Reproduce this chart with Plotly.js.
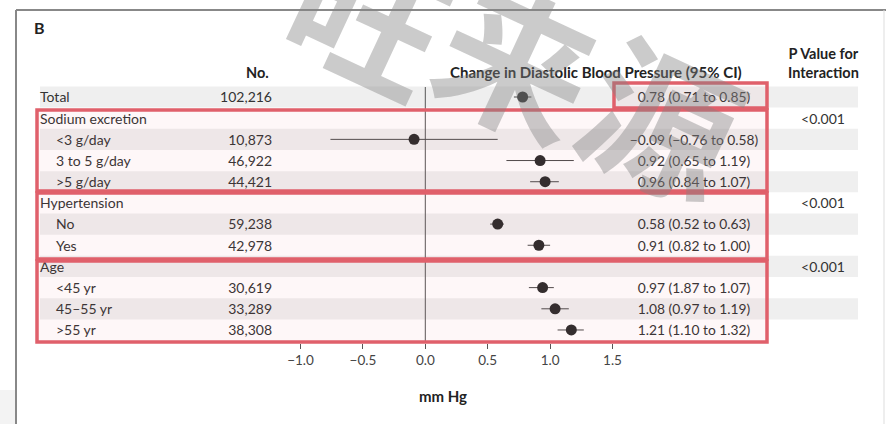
<!DOCTYPE html>
<html>
<head>
<meta charset="utf-8">
<script src="https://cdn.plot.ly/plotly-3.0.1.min.js"></script>
<style>html,body{margin:0;padding:0;background:#fff;}#chart{width:886px;height:424px;}</style>
</head>
<body>
<div id="chart"></div>
<script>
// ---- data ----
const rowLabels = ["Total","Sodium excretion","<3 g/day","3 to 5 g/day",">5 g/day","Hypertension","No","Yes","Age","<45 yr","45\u201355 yr",">55 yr"];
const rowIndent = [0,0,1,1,1,0,1,1,0,1,1,1];
const rowN      = ["102,216","","10,873","46,922","44,421","","59,238","42,978","","30,619","33,289","38,308"];
const estimate  = [0.78, null, -0.09, 0.92, 0.96, null, 0.58, 0.91, null, 0.94, 1.04, 1.17];
const ciLow     = [0.71, null, -0.76, 0.65, 0.84, null, 0.52, 0.82, null, 0.83, 0.93, 1.06];
const ciHigh    = [0.85, null, 0.58, 1.19, 1.07, null, 0.63, 1.00, null, 1.03, 1.15, 1.27];
const ciText    = ["0.78 (0.71 to 0.85)","","\u22120.09 (\u22120.76 to 0.58)","0.92 (0.65 to 1.19)","0.96 (0.84 to 1.07)","","0.58 (0.52 to 0.63)","0.91 (0.82 to 1.00)","","0.97 (1.87 to 1.07)","1.08 (0.97 to 1.19)","1.21 (1.10 to 1.32)"];
const pValue    = ["","<0.001","","","","<0.001","","","<0.001","","",""];
const tickVals  = [-1.0,-0.5,0.0,0.5,1.0,1.5];
const tickText  = ["\u22121.0","\u22120.5","0.0","0.5","1.0","1.5"];
const watermarkChars = ["旺","来","源"];

// ---- layout geometry (pixels -> axis units) ----
const W = 886, H = 424, MB = 81, PH = H - MB;
const X0PX = 425.3, XSCALE = 124.8;          // px of x=0, px per unit
const ROW0PX = 97, ROWH = 21.18;             // px of first row, row height
const px = p => (p - X0PX) / XSCALE;
const py = p => (p - ROW0PX) / ROWH;
const pyPaper = p => 1 - p / PH;

const rows = rowLabels.map((_, i) => i);
const textRows = rows.map(i => i + 0.09);
const FONT = "Lato, 'Open Sans', sans-serif";
const TXT = "#333";

const traces = [];
// point estimates with CI
traces.push({
  type: "scatter", mode: "markers",
  x: estimate, y: rows,
  marker: {size: 11, color: "#2b2b2b"},
  error_x: {type: "data", symmetric: false,
    array: estimate.map((e, i) => e == null ? null : ciHigh[i] - e),
    arrayminus: estimate.map((e, i) => e == null ? null : e - ciLow[i]),
    color: "#4a4a4a", thickness: 1, width: 0},
  hoverinfo: "skip", cliponaxis: false
});
// row labels
traces.push({
  type: "scatter", mode: "text",
  x: rowIndent.map(d => d ? px(56) : px(40)), y: textRows,
  text: rowLabels, textposition: "middle right",
  textfont: {family: FONT, size: 14, color: TXT}, cliponaxis: false, hoverinfo: "skip"
});
// N column
traces.push({
  type: "scatter", mode: "text",
  x: rows.map(() => px(272)), y: textRows,
  text: rowN, textposition: "middle left",
  textfont: {family: FONT, size: 14, color: TXT}, cliponaxis: false, hoverinfo: "skip"
});
// CI text
traces.push({
  type: "scatter", mode: "text",
  x: rows.map(() => px(694)), y: textRows,
  text: ciText, textposition: "middle center",
  textfont: {family: FONT, size: 13.8, color: TXT}, cliponaxis: false, hoverinfo: "skip"
});
// P values
traces.push({
  type: "scatter", mode: "text",
  x: rows.map(() => px(823)), y: textRows,
  text: pValue, textposition: "middle center",
  textfont: {family: FONT, size: 14, color: TXT}, cliponaxis: false, hoverinfo: "skip"
});

const shapes = [];
// alternating row bands
rows.forEach(i => {
  if (i % 2 === 0) shapes.push({type: "rect", xref: "x", yref: "y", layer: "below",
    x0: px(40), x1: px(858), y0: i - 0.5, y1: i + 0.5, fillcolor: "#efefef", line: {width: 0}});
});
// zero line
shapes.push({type: "line", xref: "x", yref: "y", layer: "below", x0: 0, x1: 0,
  y0: py(87), y1: py(343), line: {color: "#555", width: 1}});
// frame
shapes.push({type: "line", xref: "paper", yref: "paper", x0: 16 / W, x1: 16 / W,
  y0: pyPaper(10), y1: pyPaper(424), line: {color: "#888", width: 2}});
shapes.push({type: "line", xref: "paper", yref: "paper", x0: 16 / W, x1: 1,
  y0: pyPaper(10), y1: pyPaper(10), line: {color: "#888", width: 2}});
shapes.push({type: "line", xref: "paper", yref: "paper", x0: 884 / W, x1: 884 / W,
  y0: pyPaper(10), y1: pyPaper(424), line: {color: "#ddd", width: 1}});
shapes.push({type: "rect", xref: "paper", yref: "paper", x0: 0, x1: 15 / W,
  y0: pyPaper(390), y1: pyPaper(424), fillcolor: "#f3f3f3", line: {width: 0}, layer: "below"});
// red highlight boxes
const RED = "#e0606b";
const boxes = [[614, 767, 83, 108], [37, 767, 110, 191], [37, 767, 193, 259], [37, 767, 261, 342]];
boxes.forEach(b => shapes.push({type: "rect", xref: "paper", yref: "paper", layer: "above",
  x0: b[0] / W, x1: b[1] / W, y0: pyPaper(b[2]), y1: pyPaper(b[3]),
  fillcolor: "rgba(230,100,110,0.05)", line: {color: RED, width: 3.5}}));

const annotations = [
  {text: "<b>B</b>", xref: "x", yref: "y", x: px(32), y: py(27), xanchor: "left", yanchor: "middle",
   showarrow: false, font: {family: FONT, size: 16, color: "#222"}},
  {text: "<b>No.</b>", xref: "x", yref: "y", x: px(271), y: py(72), xanchor: "right", yanchor: "middle",
   showarrow: false, font: {family: FONT, size: 14.5, color: "#222"}},
  {text: "<b>Change in Diastolic Blood Pressure (95% CI)</b>", xref: "x", yref: "y", x: px(596), y: py(72),
   xanchor: "center", yanchor: "middle", showarrow: false, font: {family: FONT, size: 15, color: "#222"}},
  {text: "<b>P Value for<br>Interaction</b>", xref: "x", yref: "y", x: px(823), y: py(63),
   xanchor: "center", yanchor: "middle", showarrow: false, font: {family: FONT, size: 14.5, color: "#222"}}
];
// watermark, one glyph per annotation
const wmPos = [[372, 10], [520, 56], [664, 114]];
watermarkChars.forEach((c, k) => annotations.push({
  text: "<b>" + c + "</b>", xref: "x", yref: "y", x: px(wmPos[k][0]), y: py(wmPos[k][1]),
  xanchor: "center", yanchor: "middle", textangle: 25, showarrow: false,
  font: {family: "'Noto Sans CJK SC'", size: 152, color: "rgba(130,130,130,0.42)"}
}));

const layout = {
  width: W, height: H,
  margin: {l: 0, r: 0, t: 0, b: MB, pad: 0},
  paper_bgcolor: "#fff", plot_bgcolor: "rgba(0,0,0,0)",
  showlegend: false,
  font: {family: FONT, color: TXT},
  xaxis: {range: [px(0), px(W)], tickvals: tickVals, ticktext: tickText, ticks: "outside",
    ticklen: 5, tickcolor: "#555", tickwidth: 1, showgrid: false, zeroline: false, showline: false,
    tickfont: {family: FONT, size: 13.5, color: "#444"},
    title: {text: "<b>mm Hg</b>", font: {family: FONT, size: 15, color: "#222"}, standoff: 24},
    fixedrange: true},
  yaxis: {range: [py(PH), py(0)], visible: false, showgrid: false, zeroline: false, fixedrange: true},
  shapes: shapes, annotations: annotations
};

Plotly.newPlot("chart", traces, layout, {staticPlot: true, displayModeBar: false});
</script>
</body>
</html>
